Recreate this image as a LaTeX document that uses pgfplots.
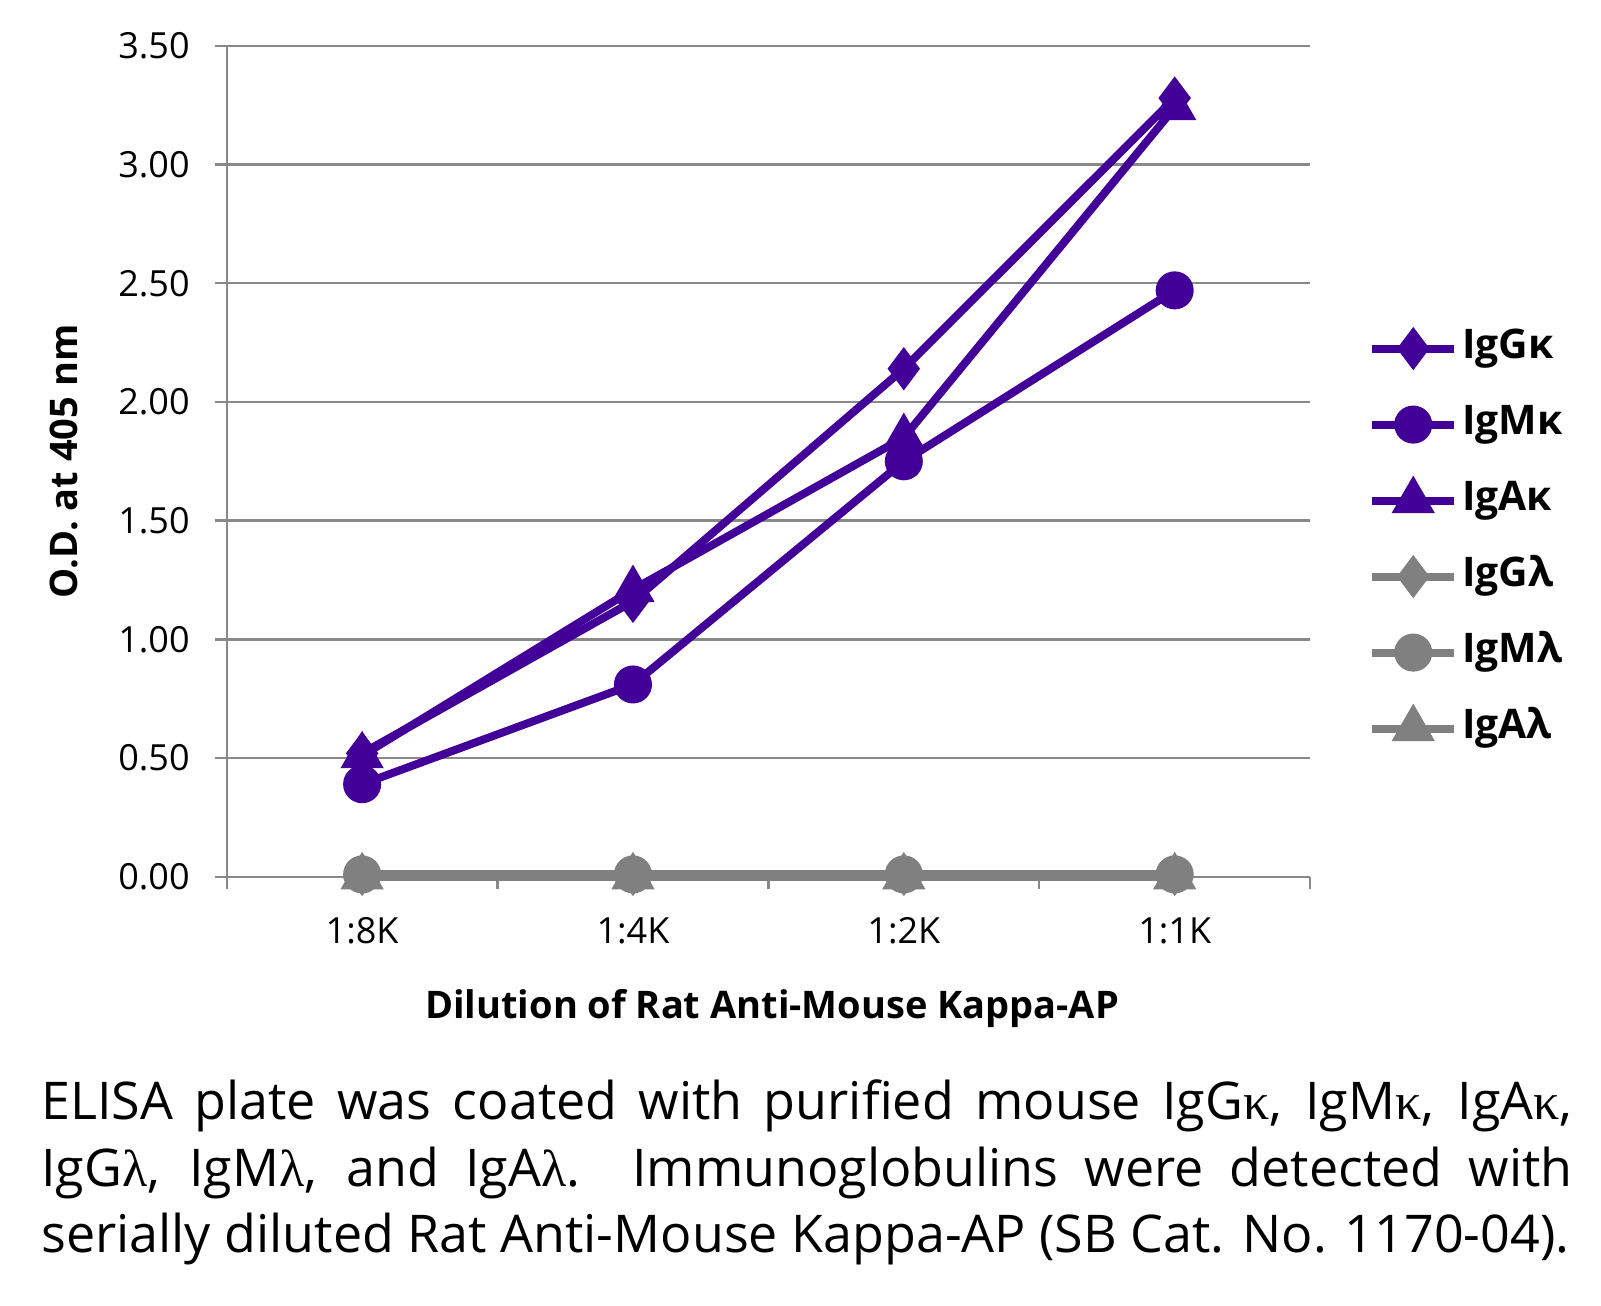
\documentclass[border=0pt]{standalone}
\usepackage{fontspec}
\setmainfont{Open Sans}
\newfontfamily\grk{Liberation Serif}
\usepackage{pgfplots}
\pgfplotsset{compat=1.18}
\definecolor{purp}{RGB}{66,0,153}
\definecolor{grs}{RGB}{128,128,128}
\definecolor{gridc}{RGB}{137,137,137}
\begin{document}
\begin{tikzpicture}
\useasboundingbox (0,0) rectangle (800.5pt,653pt);
\begin{axis}[
  at={(113.35pt,214.6pt)}, anchor=south west, scale only axis,
  width=541.7pt, height=415.5pt,
  xmin=0.5, xmax=4.5, ymin=0, ymax=3.5,
  clip=false,
  axis lines*=left,
  axis line style={gridc, line width=1.2pt},
  xtick={1,2,3,4}, xticklabels={1:8K,1:4K,1:2K,1:1K},
  minor xtick={0.5,1.5,2.5,3.5,4.5},
  ytick={0,0.5,1,1.5,2,2.5,3,3.5},
  tick align=outside,
  major tick length=6pt, minor tick length=6pt,
  major x tick style={draw=none},
  minor x tick style={gridc, line width=1.2pt},
  major y tick style={gridc, line width=1.2pt},
  ymajorgrids, grid style={gridc, line width=1.2pt},
  yticklabel style={/pgf/number format/fixed, /pgf/number format/fixed zerofill, /pgf/number format/precision=2, /pgf/number format/assume math mode=true, xshift=-9pt},
  xticklabel style={yshift=-11pt},
  ticklabel style={font=\fontsize{18}{20}\selectfont},
  xlabel={Dilution of Rat Anti-Mouse Kappa-AP},
  ylabel={O.D. at 405 nm},
  label style={font=\fontsize{19}{22}\selectfont\bfseries},
  xlabel style={at={(axis description cs:0.5034,-0.1591)}, anchor=center},
  ylabel style={at={(axis description cs:-0.1503,0.5)}, anchor=center},
  legend style={at={(axis description cs:1.0533,0.665)}, anchor=north west, draw=none, fill=none,
    font=\fontsize{20.4}{22}\selectfont\bfseries, row sep=14pt, inner sep=0pt,
    nodes={inner sep=2pt, text height=15pt, text depth=5pt}},
  legend cell align=left,
  legend image code/.code={\draw[mark repeat=2,mark phase=2,#1] plot coordinates {(0pt,0pt) (20.5pt,0pt) (41pt,0pt)};},
  every axis plot/.append style={line width=4pt},
]
\addplot[purp, mark=diamond*, mark size=7.5pt, mark options={solid}] coordinates {(1,0.52) (2,1.16) (3,2.14) (4,3.28)};
\addlegendentry{IgGκ}
\addplot[purp, mark=*, mark size=7.5pt] coordinates {(1,0.39) (2,0.81) (3,1.75) (4,2.47)};
\addlegendentry{IgMκ}
\addplot[purp, mark=triangle*, mark size=8.5pt] coordinates {(1,0.51) (2,1.21) (3,1.85) (4,3.24)};
\addlegendentry{IgAκ}
\addplot[grs, mark=diamond*, mark size=7.5pt] coordinates {(1,0.01) (2,0.01) (3,0.01) (4,0.01)};
\addlegendentry{IgGλ}
\addplot[grs, mark=*, mark size=7.5pt] coordinates {(1,0.01) (2,0.01) (3,0.01) (4,0.01)};
\addlegendentry{IgMλ}
\addplot[grs, mark=triangle*, mark size=8.5pt] coordinates {(1,0.0) (2,0.0) (3,0.0) (4,0.0)};
\addlegendentry{IgAλ}
\end{axis}
\node[anchor=base west, inner sep=0pt, font=\fontsize{26}{33.2}\selectfont] at (20.5pt,93pt) {%
\begin{tabular}[t]{@{}l@{}}
\makebox[765.5pt][s]{ELISA plate was coated with purified mouse IgG{\grk κ}, IgM{\grk κ}, IgA{\grk κ},}\\
\makebox[765.5pt][s]{IgG{\grk λ}, IgM{\grk λ}, and IgA{\grk λ}.\ \ Immunoglobulins were detected with}\\
serially diluted Rat Anti-Mouse Kappa-AP (SB Cat. No. 1170-04).
\end{tabular}};
\end{tikzpicture}
\end{document}
